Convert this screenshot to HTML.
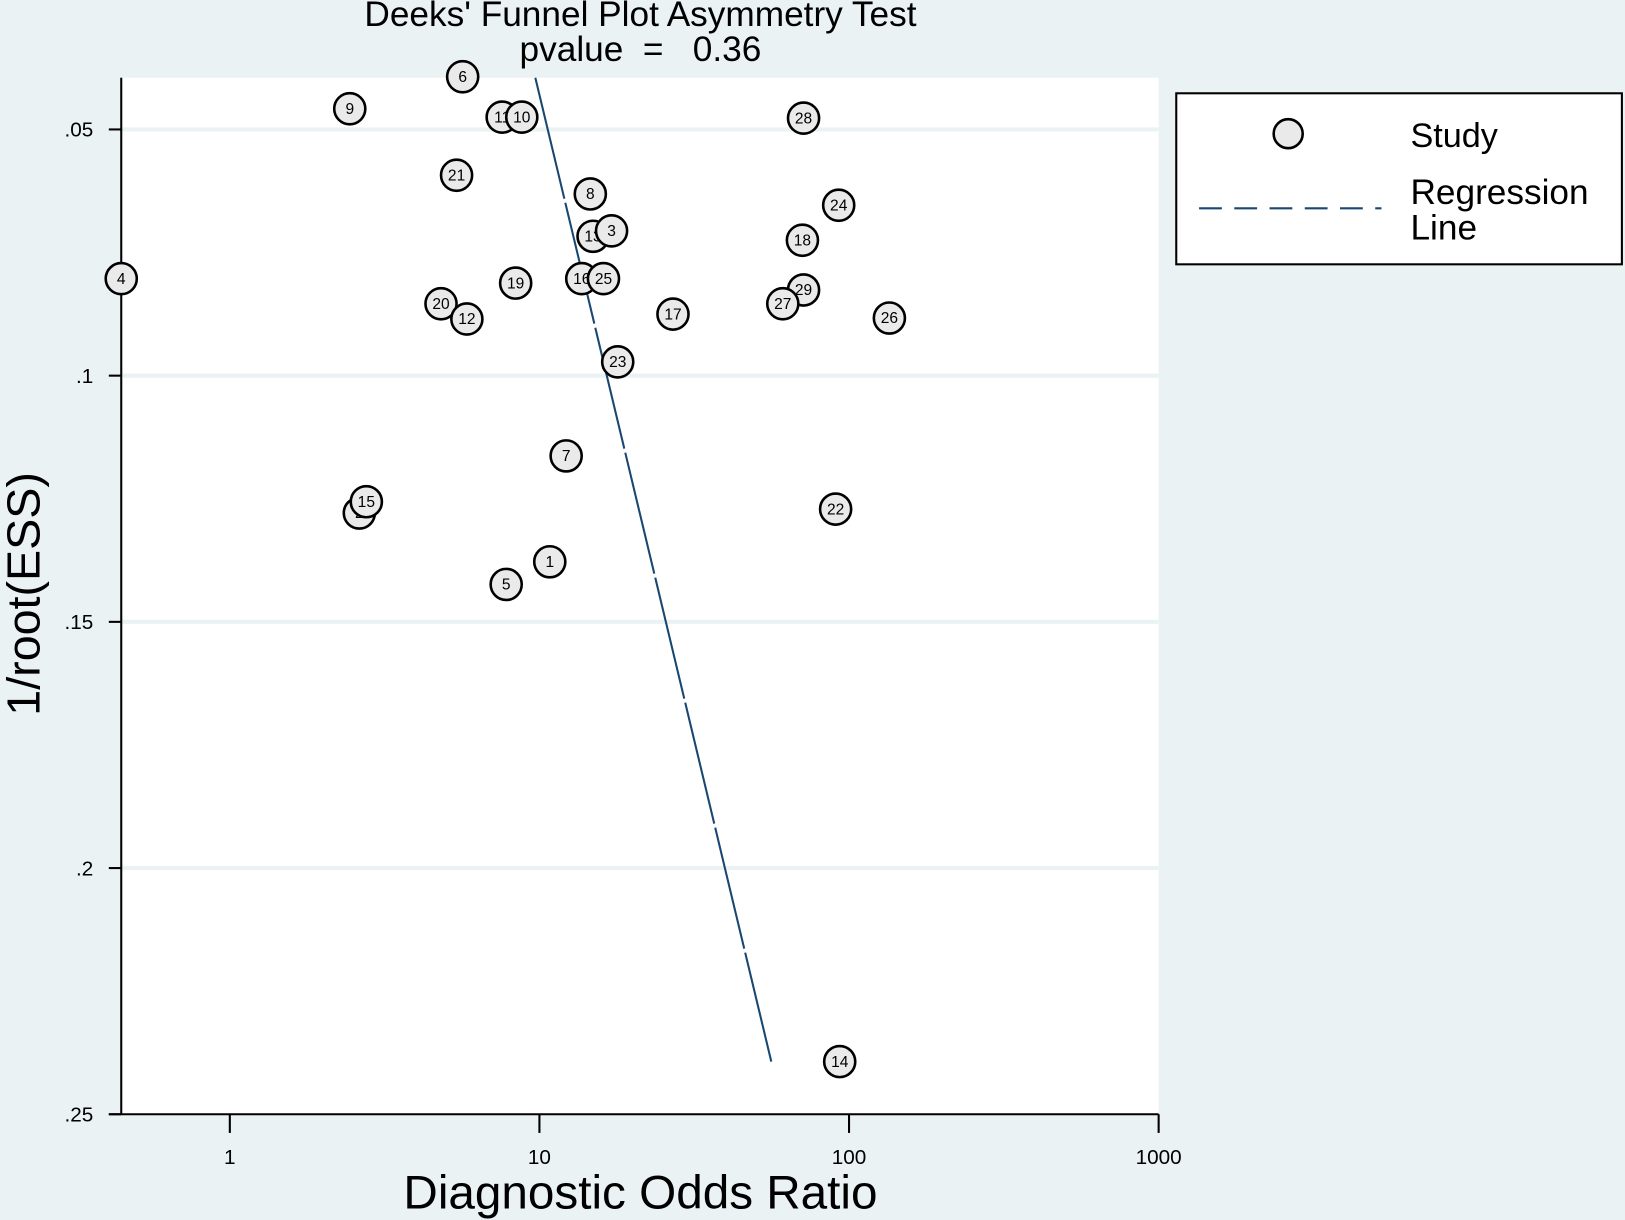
<!DOCTYPE html>
<html><head><meta charset="utf-8"><style>
html,body{margin:0;padding:0;background:#eaf2f3;}
svg{display:block;font-family:"Liberation Sans",Arial,sans-serif;}
</style></head><body>
<svg width="1625" height="1220" viewBox="0 0 1568 1177" preserveAspectRatio="none">
<rect x="0" y="0" width="1568" height="1177" fill="#eaf2f3"/>
<rect x="117" y="75" width="1001" height="1000" fill="#ffffff"/>
<g id="grid"></g><g id="axes"></g><g id="reg"></g><g id="pts"></g>
<text x="618" y="25" font-size="34" text-anchor="middle">Deeks' Funnel Plot Asymmetry Test</text>
<text x="618" y="59" font-size="34" text-anchor="middle" xml:space="preserve">pvalue  =   0.36</text>
<text x="618" y="1166" font-size="46" text-anchor="middle">Diagnostic Odds Ratio</text>
<text transform="translate(38,573) rotate(-90)" font-size="45" text-anchor="middle">1/root(ESS)</text>
<g>
<rect x="1135" y="90" width="430" height="165" fill="#fff" stroke="#000" stroke-width="2"/>
<circle cx="1243" cy="129" r="14" fill="#eaeaea" stroke="#000" stroke-width="2.5"/>
<text x="1361" y="142" font-size="33">Study</text>
<line x1="1157" y1="201" x2="1333" y2="201" stroke="#1a476f" stroke-width="2" stroke-dasharray="22 12"/>
<text x="1361" y="197" font-size="34">Regression</text>
<text x="1361" y="231" font-size="34">Line</text>
</g>
</svg>
<script>
const studyIds=[6,9,11,10,28,21,8,24,13,3,18,4,19,16,25,29,27,20,12,17,26,23,7,2,15,22,1,5,14];
const dorValues=[5.65,2.44,7.58,8.77,71.3,5.40,14.6,92.6,14.9,17.1,70.7,0.446,8.38,13.7,16.1,71.3,61.1,4.81,5.83,27.0,135,17.9,12.2,2.62,2.76,90.5,10.8,7.81,93.3];
const invRootEss=[0.0393,0.0458,0.0475,0.0475,0.0477,0.0593,0.0631,0.0654,0.0717,0.0706,0.0725,0.0803,0.0812,0.0803,0.0803,0.0826,0.0854,0.0854,0.0885,0.0875,0.0883,0.0972,0.1163,0.1279,0.1256,0.1271,0.1378,0.1424,0.2393];
const regX=[9.70,56.1];
const regY=[0.0395,0.2393];
const xTicks=[1,10,100,1000];
const xTickLabels=["1","10","100","1000"];
const yTicks=[0.05,0.1,0.15,0.2,0.25];
const yTickLabels=[".05",".1",".15",".2",".25"];
const NS="http://www.w3.org/2000/svg";
const X0=117,X1=1118,Y0=75,Y1=1075;
const xLogMin=Math.log10(0.446),xLogMax=3;
const yMin=0.0395,yMax=0.25;
function sx(v){return X0+(Math.log10(v)-xLogMin)/(xLogMax-xLogMin)*(X1-X0);}
function sy(v){return Y0+(v-yMin)/(yMax-yMin)*(Y1-Y0);}
function mk(tag,attrs,parent){const e=document.createElementNS(NS,tag);for(const k in attrs)e.setAttribute(k,attrs[k]);parent.appendChild(e);return e;}
const grid=document.getElementById('grid'),axes=document.getElementById('axes'),reg=document.getElementById('reg'),pts=document.getElementById('pts');
yTicks.forEach((t,i)=>{
  const y=sy(t);
  if(t<0.25){const g=mk('line',{x1:X0,x2:X1,y1:y,y2:y,stroke:'#eaf2f3','stroke-width':4},grid);
  
  }
  const tk=mk('line',{x1:X0-12,x2:X0,y1:y,y2:y,stroke:'#000','stroke-width':2},axes);
  
  
  const tx=mk('text',{x:X0-27,y:y+7,'font-size':20,'text-anchor':'end'},axes);
  tx.textContent=yTickLabels[i];
  
  
});
xTicks.forEach((t,i)=>{
  const x=sx(t);
  const tk=mk('line',{x1:x,x2:x,y1:Y1,y2:Y1+18,stroke:'#000','stroke-width':2},axes);
  
  
  const tx=mk('text',{x:x,y:Y1+48,'font-size':20,'text-anchor':'middle'},axes);
  tx.textContent=xTickLabels[i];
  
  
});
const ya=mk('line',{x1:X0,x2:X0,y1:Y0,y2:Y1,stroke:'#000','stroke-width':2},axes);


const xa=mk('line',{x1:X0-12,x2:X1,y1:Y1,y2:Y1,stroke:'#000','stroke-width':2},axes);


const rl=mk('line',{x1:sx(regX[0]),y1:sy(regY[0]),x2:sx(regX[1]),y2:sy(regY[1]),stroke:'#1a476f','stroke-width':2,'stroke-dasharray':'120 4'},reg);


studyIds.forEach((id,i)=>{
  const g=mk('g',{},pts);
  
  
  const cx=sx(dorValues[i]),cy=sy(invRootEss[i]);
  mk('circle',{cx:cx,cy:cy,r:15,fill:'#eaeaea',stroke:'#000','stroke-width':2.5},g);
  const t=mk('text',{x:cx,y:cy+5,'font-size':15,'text-anchor':'middle'},g);
  t.textContent=id;
});
</script>
</body></html>
